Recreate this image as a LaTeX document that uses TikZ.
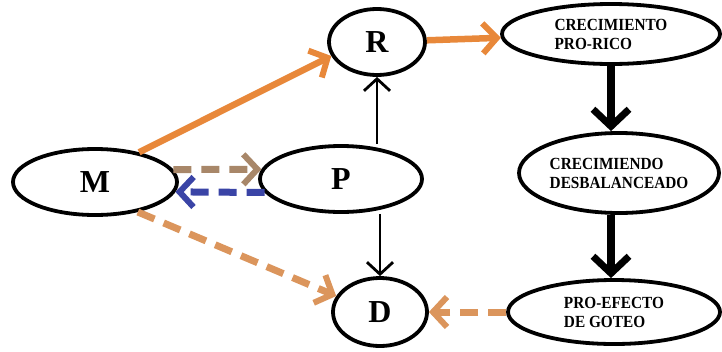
\documentclass[tikz,border=0pt]{standalone}
\usepackage{fontspec}
\setmainfont{Liberation Serif}
\newfontfamily\estrecha[FakeStretch=0.9]{Liberation Serif}
\usetikzlibrary{shapes.geometric,arrows.meta}
\definecolor{naranja}{HTML}{E8883A}
\definecolor{naranjad}{HTML}{DB955C}
\definecolor{cafe}{HTML}{A88769}
\definecolor{azul}{HTML}{3A44A6}
\begin{document}
\begin{tikzpicture}[x=1pt,y=-1pt,
	elip/.style={ellipse,draw,line width=3.8pt,inner sep=0pt,align=left,font=\estrecha\bfseries\fontsize{17}{19}\selectfont},
	letra/.style={elip,font=\bfseries\fontsize{32}{34}\selectfont},
	solida/.style={naranja,line width=6.5pt,-{Straight Barb[length=14pt,width=30pt,line width=6pt]}},
	punteada/.style={line width=7pt,dash pattern=on 18pt off 10pt,-{Straight Barb[length=14pt,width=30pt,line width=6pt]}},
	fina/.style={line width=2.8pt,-{Straight Barb[length=12pt,width=26pt,line width=2.8pt]}},
	gruesa/.style={line width=8pt,-{Straight Barb[length=17pt,width=36pt,line width=7pt]}}]
	\useasboundingbox (0,0) rectangle (722,351);
	\node[letra,minimum width=164pt,minimum height=66pt] (M) at (95,182) {M};
	\node[letra,minimum width=162pt,minimum height=66pt] (P) at (341,179) {P};
	\node[letra,minimum width=96pt,minimum height=66pt] (R) at (377,42) {R};
	\node[letra,minimum width=94pt,minimum height=68pt] (D) at (380,312) {D};
	\node[elip,minimum width=218pt,minimum height=60pt] (rico) at (611,34) {CRECIMIENTO\\PRO-RICO};
	\node[elip,minimum width=200pt,minimum height=80pt] (desbal) at (619,173) {CRECIMIENDO\\DESBALANCEADO};
	\node[elip,minimum width=212pt,minimum height=64pt] (goteo) at (614,312) {PRO-EFECTO\\DE GOTEO};
	% flechas
	\draw[solida] (M.34) -- (R.197);
	\draw[solida] (R) -- (rico);
	\draw[gruesa] (rico.south) -- (rico.south |- desbal.north);
	\draw[gruesa] (desbal.south -| rico.south) -- (rico.south |- goteo.north);
	\draw[fina] (R.south |- P.north) -- (R.south);
	\draw[fina] (D.north |- P.south) -- (D.north);
	\draw[punteada,cafe] (M.9) -- (P.173);
	\draw[punteada,azul] (P.190) -- (M.-7);
	\draw[punteada,naranjad] (M.-35) -- (D.160);
	\draw[punteada,naranjad] (goteo) -- (D);
\end{tikzpicture}
\end{document}
